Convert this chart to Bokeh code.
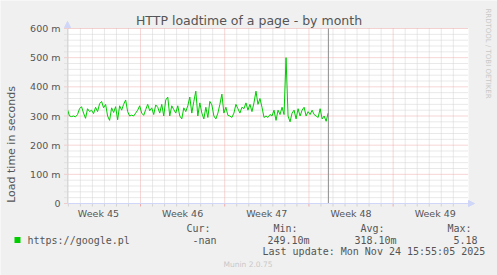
import math
from bokeh.plotting import figure
from bokeh.models import Range1d, Arrow, NormalHead
from bokeh.core.properties import value
from bokeh.embed import file_html
from bokeh.resources import INLINE

# ---------------- data ----------------
title_text = "HTTP loadtime of a page - by month"
y_axis_label = "Load time in seconds"
series_name = "https://google.pl"
week_labels = ["Week 45", "Week 46", "Week 47", "Week 48", "Week 49"]
week_label_days = [3.5, 10.5, 17.5, 24.5, 31.5]
week_start_days = [7, 14, 21, 28]
y_ticks = [0, 100, 200, 300, 400, 500, 600]
y_tick_labels = ["0", "100 m", "200 m", "300 m", "400 m", "500 m", "600 m"]
start_day = 0.93          # first sample, in days
step_hours = 4            # sample spacing
load_ms = [
    322, 300, 298, 300, 297, 305, 325, 332, 310, 292,
    325, 315, 320, 308, 330, 315, 342, 350, 328, 340,
    300, 285, 328, 312, 332, 287, 335, 320, 340, 355,
    315, 300, 303, 300, 310, 320, 335, 310, 302, 322,
    340, 318, 328, 305, 338, 330, 310, 340, 300, 355,
    365, 300, 335, 322, 310, 335, 300, 290, 328, 315,
    335, 365, 310, 350, 385, 300, 345, 310, 290, 330,
    295, 350, 338, 300, 290, 310, 340, 375, 310, 330,
    302, 300, 295, 310, 340, 325, 310, 330, 325, 345,
    320, 340, 315, 345, 385, 340, 360, 330, 295, 300,
    295, 305, 300, 320, 285, 320, 305, 330, 305, 500,
    300, 280, 310, 320, 290, 325, 300, 320, 330, 300,
    315, 305, 320, 305, 300, 295, 325, 290, 300, 282,
    310,
]
stat_names = ["Cur:", "Min:", "Avg:", "Max:"]
stat_values = ["-nan", "249.10m", "318.10m", "5.18"]
last_update = "Last update: Mon Nov 24 15:55:05 2025"
munin_version = "Munin 2.0.75"
watermark = "RRDTOOL / TOBI OETIKER"

# ---------------- layout helpers ----------------
W, H = 497, 275
FL, FR, FT, FB = 67, 468, 28, 203      # plot area edges in px
PX_PER_DAY = 12.03
x_lo = start_day
x_hi = x_lo + (FR - FL) / PX_PER_DAY
Y_MAX = 600


def dx(px):
    return x_lo + (px - FL) / PX_PER_DAY


def dy(py):
    return (FB - py) * Y_MAX / (FB - FT)


xs = [start_day + i * step_hours / 24.0 for i in range(len(load_ms))]

FONT = "DejaVu Sans"
MONO = "DejaVu Sans Mono"
TXT = "#555555"
AXIS = "#CFD6F8"
MGRID = "#EFABAB"
GRID = "#D2D2D2"

# the frame covers the whole canvas; the scales are extended so the chart area sits in place
p = figure(width=W, height=H, x_range=Range1d(dx(0), dx(W)), y_range=Range1d(dy(H), dy(0)),
           output_backend="svg", toolbar_location=None,
           min_border=0, min_border_left=0, min_border_right=0,
           min_border_top=0, min_border_bottom=0,
           background_fill_color="#F0F0F0", border_fill_color="#F0F0F0",
           outline_line_color=None)
p.axis.visible = False
p.grid.visible = False

# chart canvas
p.quad(left=[x_lo], right=[x_hi], bottom=[0], top=[Y_MAX], fill_color="#FFFFFF", line_color=None)

# grid
day_ticks = list(range(1, 34))
minor_days = [d for d in day_ticks if d not in week_start_days and x_lo < d < x_hi]
minor_y = [v for v in range(20, 601, 20) if v not in y_ticks]
p.segment(x0=minor_days, x1=minor_days, y0=[0] * len(minor_days), y1=[Y_MAX] * len(minor_days),
          line_color=GRID, line_dash="1 1", line_width=1)
p.segment(x0=[dx(64)] * len(minor_y), x1=[x_hi] * len(minor_y), y0=minor_y, y1=minor_y,
          line_color=GRID, line_dash="1 1", line_width=1)
p.segment(x0=week_start_days, x1=week_start_days, y0=[0] * 4, y1=[Y_MAX] * 4,
          line_color=MGRID, line_dash="1 1", line_width=1)
p.segment(x0=[dx(64)] * len(y_ticks), x1=[x_hi] * len(y_ticks), y0=y_ticks, y1=y_ticks,
          line_color=MGRID, line_dash="1 1", line_width=1)
# x ticks below the axis
p.segment(x0=minor_days, x1=minor_days, y0=[dy(206)] * len(minor_days), y1=[0] * len(minor_days),
          line_color=GRID, line_width=1)
p.segment(x0=week_start_days, x1=week_start_days, y0=[dy(206)] * 4, y1=[0] * 4,
          line_color=MGRID, line_width=1)

# series
p.line(xs, load_ms, line_color="#00CC00", line_width=1)

# "now" line
now_x = xs[-1] + 0.02
p.segment(x0=[now_x], x1=[now_x], y0=[0], y1=[Y_MAX], line_color="#8C8C8C", line_width=1)

# axes with arrows
p.segment(x0=[x_lo, x_lo], x1=[x_lo, x_hi], y0=[0, 0], y1=[Y_MAX, 0], line_color=AXIS, line_width=1)
p.add_layout(Arrow(x_start=x_lo, y_start=Y_MAX, x_end=x_lo, y_end=dy(21),
                   line_color=AXIS, line_width=1,
                   end=NormalHead(size=6, fill_color=AXIS, line_color=AXIS)))
p.add_layout(Arrow(x_start=x_hi, y_start=0, x_end=dx(474), y_end=0,
                   line_color=AXIS, line_width=1,
                   end=NormalHead(size=6, fill_color=AXIS, line_color=AXIS)))


def txt(texts, xv, yv, font=FONT, size="10px", color=TXT, align="left", angle=0.0):
    p.text(x=xv, y=yv, text=texts, text_font=value(font), text_font_size=size,
           text_color=color, text_align=align, text_baseline="middle", angle=angle)


# tick labels
txt(y_tick_labels, [dx(60)] * len(y_ticks), y_ticks, size="9.5px", align="right")
txt(week_labels, week_label_days, [dy(212.5)] * len(week_labels), size="9.5px", align="center")

# titles
txt([title_text], [dx(248.5)], [dy(19.5)], size="12.5px", align="center")
txt([y_axis_label], [dx(11)], [dy(144)], size="11px", align="center", angle=math.pi / 2)
txt([watermark], [dx(487)], [dy(53)], size="7px", color="#C8C8C8", align="center", angle=-math.pi / 2)

# legend
p.quad(left=[dx(14)], right=[dx(20)], top=[dy(236.5)], bottom=[dy(242.5)],
       fill_color="#00CC00", line_color=None)
txt([series_name], [dx(27)], [dy(239.5)], font=MONO)
stat_x = [186, 273, 360, 447]
val_x = [192, 267, 354, 453]
txt(stat_names, [dx(v) for v in stat_x], [dy(228)] * 4, font=MONO)
txt(stat_values, [dx(v) for v in val_x], [dy(239.5)] * 4, font=MONO)
txt([last_update], [dx(262)], [dy(251)], font=MONO)
txt([munin_version], [dx(247.5)], [dy(263.5)], size="7.5px", color="#C8C8C8", align="center")

open("out.html", "w").write(file_html(p, INLINE))
